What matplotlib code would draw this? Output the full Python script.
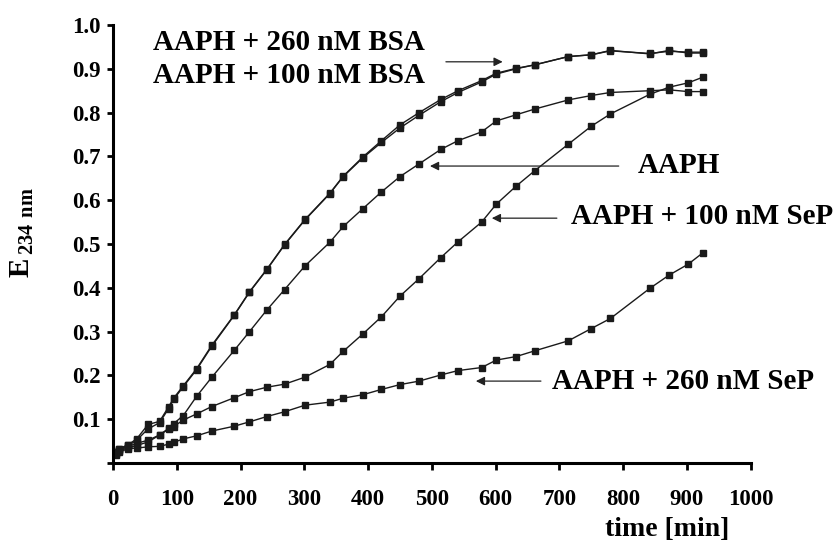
import numpy as np
import matplotlib
matplotlib.use("Agg")
import matplotlib.pyplot as plt

plt.rcParams['font.family'] = ['Liberation Serif', 'DejaVu Serif']
plt.rcParams['font.weight'] = 'bold'
plt.rcParams['mathtext.fontset'] = 'custom'
plt.rcParams['mathtext.rm'] = 'Liberation Serif'
plt.rcParams['mathtext.bf'] = 'Liberation Serif:bold'

# czas pomiaru [min]
t = [5, 10, 24, 37, 55, 73, 87, 95, 110, 131, 155, 190, 214, 241, 269, 301, 340,
     361, 392, 421, 450, 480, 514, 541, 578, 601, 632, 661, 714, 750, 780, 842,
     872, 902, 925]

bsa_260 = [0.025, 0.033, 0.042, 0.055, 0.088, 0.095, 0.128, 0.148, 0.176, 0.215,
           0.269, 0.338, 0.391, 0.442, 0.499, 0.556, 0.616, 0.655, 0.699, 0.736,
           0.772, 0.800, 0.830, 0.850, 0.873, 0.890, 0.901, 0.909, 0.928, 0.932,
           0.942, 0.934, 0.942, 0.936, 0.936]
bsa_100 = [0.024, 0.032, 0.040, 0.052, 0.078, 0.092, 0.124, 0.145, 0.174, 0.213,
           0.267, 0.337, 0.390, 0.441, 0.498, 0.555, 0.615, 0.654, 0.697, 0.732,
           0.765, 0.794, 0.825, 0.846, 0.870, 0.888, 0.900, 0.909, 0.928, 0.932,
           0.941, 0.935, 0.940, 0.938, 0.938]
aaph = [0.022, 0.030, 0.038, 0.045, 0.052, 0.064, 0.079, 0.090, 0.108, 0.152,
        0.196, 0.257, 0.300, 0.349, 0.396, 0.450, 0.504, 0.540, 0.581, 0.619,
        0.654, 0.683, 0.716, 0.736, 0.756, 0.781, 0.795, 0.808, 0.829, 0.839,
        0.846, 0.850, 0.852, 0.848, 0.848]
sep_100 = [0.020, 0.028, 0.035, 0.040, 0.048, 0.064, 0.077, 0.083, 0.098, 0.112,
           0.129, 0.149, 0.163, 0.173, 0.180, 0.196, 0.225, 0.255, 0.295, 0.334,
           0.381, 0.421, 0.469, 0.505, 0.550, 0.591, 0.632, 0.667, 0.728, 0.769,
           0.797, 0.842, 0.858, 0.868, 0.881]
sep_260 = [0.018, 0.025, 0.033, 0.034, 0.037, 0.038, 0.043, 0.047, 0.055, 0.062,
           0.073, 0.084, 0.094, 0.106, 0.117, 0.132, 0.139, 0.148, 0.156, 0.168,
           0.179, 0.187, 0.201, 0.211, 0.218, 0.235, 0.243, 0.256, 0.279, 0.307,
           0.330, 0.399, 0.429, 0.454, 0.480]

fig = plt.figure(figsize=(8.36, 5.51), dpi=100)
ax = fig.add_axes([0.1352, 0.1597, 0.898 - 0.1352, 0.9546 - 0.1597])

for y in [bsa_260, bsa_100, aaph, sep_100, sep_260]:
    ax.plot(t, y, color='#1a1a1a', lw=1.0, marker='s', ms=4.5,
            mfc='#1a1a1a', mec='#1a1a1a', clip_on=False)

ax.set_xlim(0, 1000)
ax.set_ylim(0, 1.0)
ax.set_xticks(np.arange(0, 1001, 100))
ax.set_yticks(np.arange(0, 1.01, 0.1))
ax.set_yticklabels([''] + ['%.1f' % v for v in np.arange(0.1, 1.01, 0.1)])

for s in ['top', 'right']:
    ax.spines[s].set_visible(False)
for s in ['left', 'bottom']:
    ax.spines[s].set_linewidth(2.2)
ax.tick_params(axis='y', direction='out', length=4, width=2, pad=5, labelsize=16.5)
ax.tick_params(axis='x', direction='out', length=5, width=2, pad=14, labelsize=16.5)

fig.text(22 / 836, 1 - 233 / 551, r'$\mathbf{E}_{\,\mathbf{234\ nm}}$', rotation=90,
         ha='center', va='center', fontsize=21)
fig.text(667 / 836, 1 - 530 / 551, 'time [min]', ha='center', va='center',
         fontsize=20, fontweight='bold')

# opisy krzywych ze strzałkami
arrow = dict(arrowstyle='-|>', color='#222222', lw=0.9, mutation_scale=13,
             shrinkA=0, shrinkB=0)
ax.text(63, 0.959, 'AAPH + 260 nM BSA', fontsize=21, va='center', clip_on=False)
ax.text(63, 0.884, 'AAPH + 100 nM BSA', fontsize=21, va='center', clip_on=False)
ax.annotate('', xy=(611, 0.916), xytext=(522, 0.916), arrowprops=arrow)

ax.text(823, 0.680, 'AAPH', fontsize=21, va='center', clip_on=False)
ax.annotate('', xy=(497, 0.678), xytext=(793, 0.678), arrowprops=arrow)

ax.text(718, 0.562, 'AAPH + 100 nM SeP', fontsize=21, va='center', clip_on=False)
ax.annotate('', xy=(594, 0.559), xytext=(696, 0.559), arrowprops=arrow)

ax.text(688, 0.185, 'AAPH + 260 nM SeP', fontsize=21, va='center', clip_on=False)
ax.annotate('', xy=(569, 0.187), xytext=(671, 0.187), arrowprops=arrow)

fig.savefig('out.png', dpi=100)
